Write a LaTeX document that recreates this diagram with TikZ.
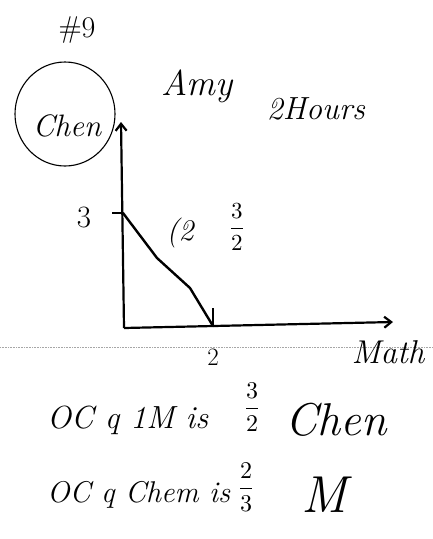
\documentclass[tikz,border=0pt]{standalone}
\usepackage{fontspec}
\usepackage{unicode-math}
\usetikzlibrary{arrows.meta}
\newcommand{\fs}[1]{\fontsize{#1}{#1}\selectfont}
\begin{document}
\begin{tikzpicture}[x=1pt,y=-1pt,
  axis/.style={line width=2.2pt, -{Straight Barb[length=7pt,width=11pt]}},
  tickmark/.style={line width=1.6pt},
  curve/.style={line width=2.4pt, line join=round, line cap=round}]
\useasboundingbox (0,0) rectangle (433,539);
% header
\node[inner sep=0pt, font=\fs{30}] (num) at (77,30) {\#9};
\draw[line width=1.1pt] (65,114) ellipse [x radius=50, y radius=52];
\node[inner sep=0pt, font=\itshape\fs{31}] (chen) at (67,126) {Chen};
\node[inner sep=0pt, font=\itshape\fs{36}] (amy) at (197,86) {Amy};
\node[inner sep=0pt, font=\itshape\fs{32}] (hours) at (316,109) {2Hours};
% axes
\coordinate (O) at (124,328);
\coordinate (ytop) at (121,122);
\coordinate (xend) at (393,322);
\draw[axis] (O) -- (ytop);
\draw[axis] (O) -- (xend);
% ticks
\coordinate (t3) at (123,213);
\coordinate (t2) at (213,326);
\draw[tickmark] (112,213) -- (t3);
\draw[tickmark] (213,308) -- (t2);
\node[inner sep=0pt, font=\fs{31}] (l3) at (84,217) {3};
\node[inner sep=0pt, font=\fs{25}] (l2) at (213,357) {2};
% budget line
\coordinate (c1) at (157,258);
\coordinate (c2) at (190,288);
\draw[curve] (t3) -- (c1) -- (c2) -- (t2);
% slope label
\node[inner sep=0pt, font=\itshape\fs{30}] (slope) at (180,233) {(2};
\node[inner sep=0pt, font=\fs{23}] (frac) at (237,227) {$\displaystyle\frac{3}{2}$};
% dotted ruler line
\draw[gray!70, densely dotted, line width=0.6pt] (0,347) -- (433,347);
\node[inner sep=0pt, font=\itshape\fs{33}] (math) at (388,352) {Math};
% bottom line 1
\node[inner sep=0pt, font=\itshape\fs{32}, anchor=west] (l1a) at (47,420) {OC q 1M is};
\node[inner sep=0pt, font=\fs{24}] (l1f) at (252,407) {$\displaystyle\frac{3}{2}$};
\node[inner sep=0pt, font=\itshape\fs{46}, anchor=east] (l1b) at (387,420) {Chen};
% bottom line 2
\node[inner sep=0pt, font=\itshape\fs{30}, anchor=west] (l2a) at (47,495) {OC q Chem is};
\node[inner sep=0pt, font=\fs{24}] (l2f) at (246,487) {$\displaystyle\frac{2}{3}$};
\node[inner sep=0pt, font=\itshape\fs{52}, anchor=east] (l2b) at (347,495) {M};
\end{tikzpicture}
\end{document}
